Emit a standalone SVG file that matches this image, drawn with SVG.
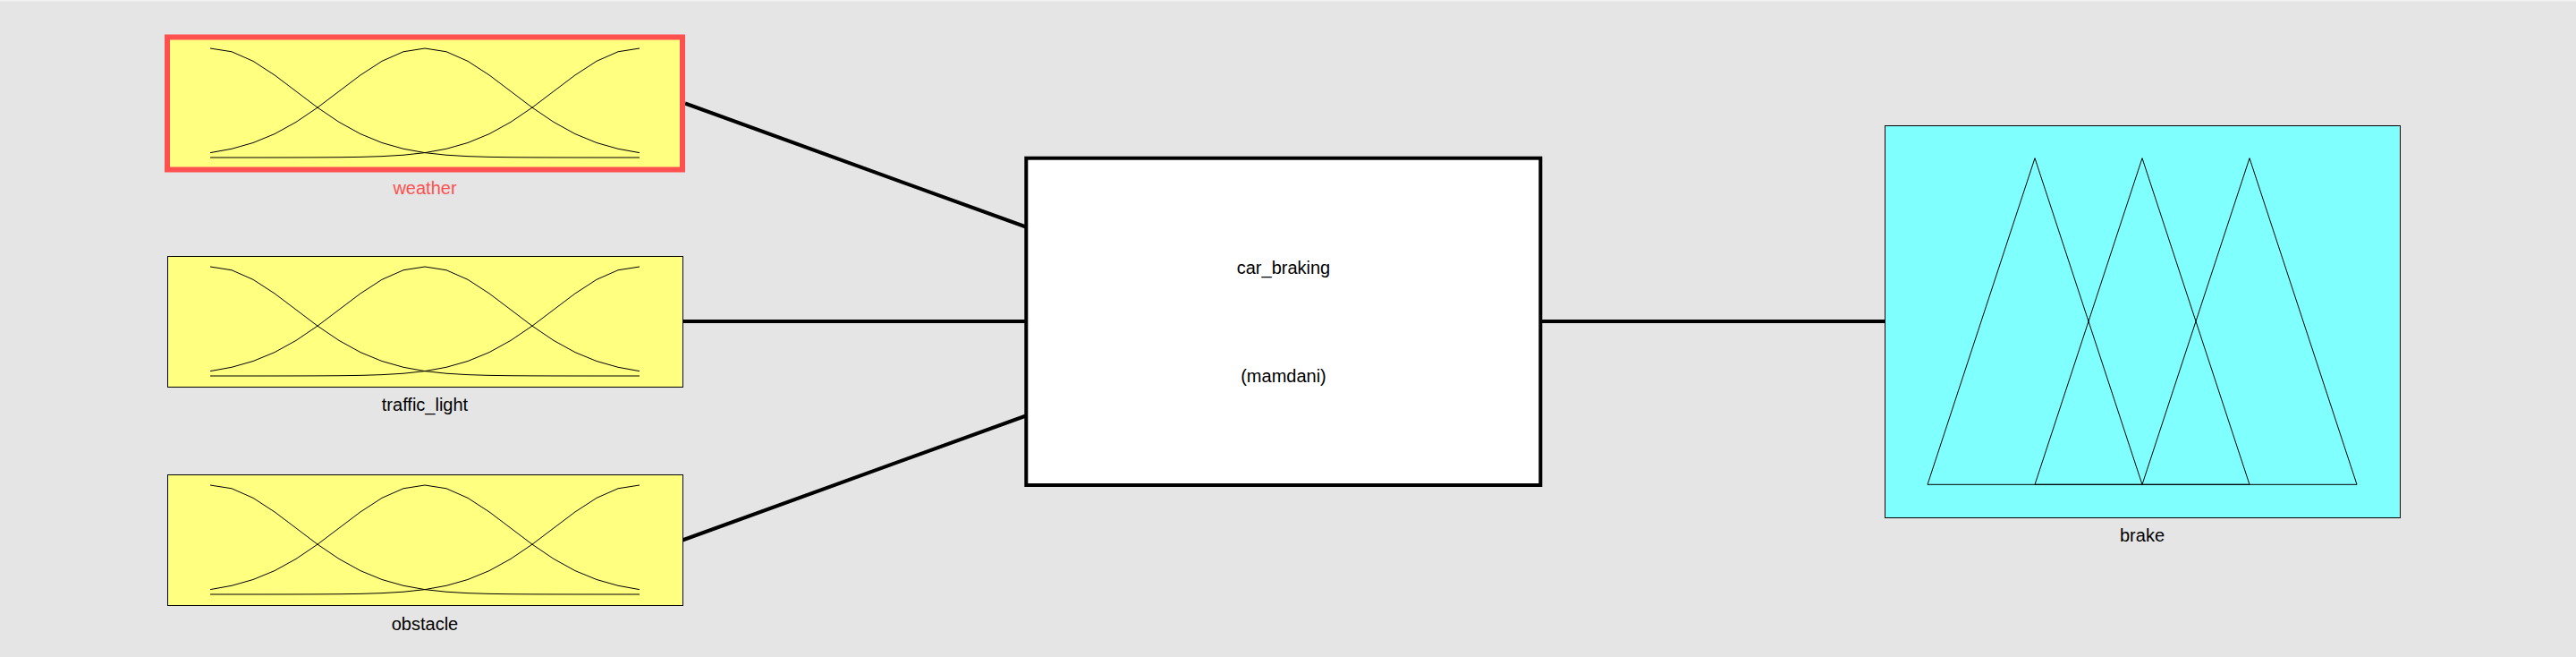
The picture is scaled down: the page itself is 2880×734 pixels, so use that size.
<svg xmlns="http://www.w3.org/2000/svg" width="2880" height="734" viewBox="0 0 2880 734">
<style>
.bg{fill:#e5e5e5}
.in{fill:#ffff80;stroke:#000;stroke-width:1}
.sel{fill:#ffff80;stroke:#ff5050;stroke-width:6}
.sys{fill:#fff;stroke:#000;stroke-width:4}
.out{fill:#80ffff;stroke:#000;stroke-width:1}
.mf{fill:none;stroke:#000;stroke-width:1}
.conn{stroke:#000;stroke-width:4;fill:none}
.lbl{font-family:"Liberation Sans",Arial,sans-serif;font-size:20px;fill:#000;text-anchor:middle}
.lblsel{fill:#ff5050}
</style>
<defs>
<g id="gauss3">
<polyline class="mf" points="0,0 24,3.76 48,14.34 72,29.91 96,48.01 120,66.15 144,82.39 168,95.61 192,105.49 216,112.29 240,116.64 264,119.22 288,120.65 312,121.38 336,121.73 360,121.89 384,121.96 408,121.99 432,122 456,122 480,122"/>
<polyline class="mf" points="0,116.64 24,112.29 48,105.49 72,95.61 96,82.39 120,66.15 144,48.01 168,29.91 192,14.34 216,3.76 240,0 264,3.76 288,14.34 312,29.91 336,48.01 360,66.15 384,82.39 408,95.61 432,105.49 456,112.29 480,116.64"/>
<polyline class="mf" points="0,122 24,122 48,122 72,121.99 96,121.96 120,121.89 144,121.73 168,121.38 192,120.65 216,119.22 240,116.64 264,112.29 288,105.49 312,95.61 336,82.39 360,66.15 384,48.01 408,29.91 432,14.34 456,3.76 480,0"/>
</g>
</defs>
<rect class="bg" x="0" y="0" width="2880" height="734"/>
<rect x="0" y="0" width="2880" height="1.5" fill="#f2f2f2"/>
<g id="connectors">
<line class="conn" x1="766" y1="115.5" x2="1147" y2="253.5"/>
<line class="conn" x1="763" y1="359" x2="1147" y2="359"/>
<line class="conn" x1="763" y1="603.5" x2="1147" y2="464.5"/>
<line class="conn" x1="1724" y1="359" x2="2107" y2="359"/>
</g>
<g id="weather">
<rect class="sel" x="187" y="41.5" width="576" height="148"/>
<use href="#gauss3" transform="translate(235,54)"/>
<text class="lbl lblsel" x="475" y="216.5">weather</text>
</g>
<g id="traffic_light">
<rect class="in" x="187.5" y="286.5" width="576" height="146"/>
<use href="#gauss3" transform="translate(235,298)"/>
<text class="lbl" x="475" y="458.5">traffic_light</text>
</g>
<g id="obstacle">
<rect class="in" x="187.5" y="530.5" width="576" height="146"/>
<use href="#gauss3" transform="translate(235,542)"/>
<text class="lbl" x="475" y="704">obstacle</text>
</g>
<g id="car_braking">
<rect class="sys" x="1147.3" y="176.7" width="575" height="365.3"/>
<text class="lbl" x="1435" y="306">car_braking</text>
<text class="lbl" x="1435" y="427">(mamdani)</text>
</g>
<g id="brake">
<rect class="out" x="2107.5" y="140.5" width="576" height="438"/>
<polygon class="mf" points="2155,541.3 2275,176.7 2395,541.3"/>
<polygon class="mf" points="2275,541.3 2395,176.7 2515,541.3"/>
<polygon class="mf" points="2395,541.3 2515,176.7 2635,541.3"/>
<text class="lbl" x="2395" y="605">brake</text>
</g>
</svg>
